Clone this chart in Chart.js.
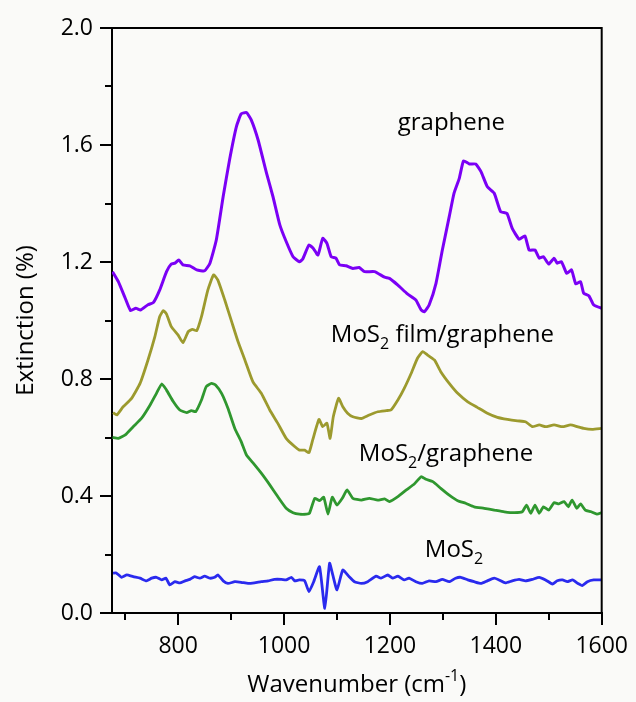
<!DOCTYPE html>
<html>
<head>
<meta charset="utf-8">
<script src="https://cdn.jsdelivr.net/npm/chart.js@4.4.1/dist/chart.umd.min.js"></script>
<style>
html,body{margin:0;padding:0;background:#fafaf8;}
#wrap{width:636px;height:702px;}
</style>
</head>
<body>
<div id="wrap"><canvas id="c" width="636" height="702"></canvas></div>
<script>
// ---- Data ----
const grapheneX = [676,687,700,710,720,729,743,753,765,778,787,794,801,809,822,835,850,860,872,885,897,910,919,929,938,951,967,979,992,1004,1017,1029,1035,1047,1055,1064,1073,1081,1089,1098,1105,1117,1130,1142,1152,1171,1190,1199,1215,1233,1249,1259,1265,1274,1287,1299,1312,1321,1331,1339,1350,1362,1372,1384,1397,1409,1421,1431,1444,1455,1463,1474,1482,1490,1500,1510,1516,1524,1534,1543,1551,1560,1566,1576,1585,1600];
const grapheneY = [1.167,1.133,1.076,1.034,1.042,1.036,1.054,1.061,1.104,1.167,1.193,1.196,1.207,1.190,1.187,1.173,1.170,1.196,1.275,1.424,1.549,1.663,1.706,1.711,1.686,1.617,1.503,1.424,1.327,1.270,1.218,1.201,1.209,1.258,1.247,1.224,1.281,1.264,1.218,1.213,1.190,1.187,1.178,1.181,1.167,1.167,1.148,1.144,1.121,1.091,1.070,1.036,1.030,1.053,1.127,1.241,1.355,1.435,1.486,1.546,1.535,1.535,1.509,1.457,1.435,1.372,1.366,1.315,1.278,1.289,1.241,1.241,1.213,1.218,1.193,1.213,1.196,1.201,1.161,1.173,1.125,1.133,1.093,1.084,1.053,1.042];

const filmX = [677,684,696,712,728,743,756,765,772,778,787,800,809,819,827,835,844,856,867,875,888,901,913,926,941,957,973,988,1004,1020,1029,1039,1047,1054,1066,1073,1081,1087,1093,1103,1111,1120,1130,1146,1161,1177,1193,1202,1215,1227,1240,1252,1262,1271,1284,1296,1312,1328,1347,1365,1384,1403,1422,1441,1456,1469,1482,1494,1510,1526,1541,1554,1566,1582,1600];
const filmY = [0.685,0.677,0.705,0.734,0.785,0.865,0.945,1.013,1.034,1.022,0.979,0.950,0.924,0.962,0.970,0.965,1.013,1.104,1.156,1.138,1.070,0.996,0.928,0.865,0.791,0.751,0.694,0.649,0.597,0.569,0.557,0.557,0.548,0.591,0.662,0.637,0.649,0.597,0.671,0.734,0.705,0.683,0.671,0.665,0.677,0.688,0.692,0.694,0.728,0.768,0.819,0.871,0.894,0.882,0.865,0.825,0.785,0.751,0.722,0.703,0.683,0.669,0.662,0.657,0.654,0.637,0.643,0.637,0.643,0.637,0.643,0.637,0.631,0.628,0.631];

const mgX = [676,687,700,715,731,747,759,769,778,791,803,816,825,833,844,853,863,871,882,894,907,919,929,941,957,973,988,1004,1017,1029,1042,1048,1058,1067,1075,1083,1091,1100,1110,1119,1130,1146,1161,1177,1190,1199,1215,1231,1246,1259,1268,1281,1296,1312,1328,1343,1359,1378,1397,1416,1435,1450,1458,1466,1474,1482,1490,1500,1510,1519,1529,1537,1544,1553,1560,1569,1580,1591,1600];
const mgY = [0.600,0.597,0.609,0.637,0.666,0.711,0.751,0.783,0.762,0.722,0.694,0.685,0.692,0.688,0.728,0.774,0.785,0.779,0.751,0.700,0.631,0.586,0.540,0.514,0.478,0.438,0.398,0.358,0.343,0.338,0.338,0.341,0.392,0.384,0.396,0.338,0.396,0.369,0.392,0.421,0.392,0.386,0.392,0.386,0.390,0.381,0.398,0.421,0.441,0.466,0.457,0.449,0.426,0.403,0.384,0.375,0.363,0.358,0.352,0.346,0.343,0.346,0.369,0.341,0.369,0.341,0.363,0.352,0.377,0.373,0.381,0.363,0.386,0.358,0.373,0.352,0.346,0.338,0.343];

const mosX = [677,683,693,703,715,728,740,750,759,769,777,784,794,803,813,822,831,841,850,860,869,875,885,894,907,919,932,944,957,970,982,995,1004,1014,1020,1029,1039,1047,1056,1067,1077,1086,1092,1100,1111,1123,1133,1146,1158,1174,1183,1196,1205,1215,1227,1236,1249,1261,1274,1287,1299,1312,1324,1334,1347,1359,1372,1384,1397,1406,1418,1431,1444,1456,1469,1482,1494,1507,1516,1526,1535,1545,1555,1563,1573,1585,1600];
const mosY = [0.136,0.137,0.122,0.130,0.124,0.119,0.110,0.119,0.122,0.113,0.119,0.096,0.107,0.103,0.110,0.115,0.124,0.119,0.126,0.119,0.122,0.130,0.110,0.101,0.107,0.105,0.101,0.103,0.107,0.110,0.115,0.115,0.113,0.122,0.110,0.113,0.110,0.073,0.107,0.158,0.016,0.170,0.130,0.079,0.147,0.124,0.107,0.101,0.107,0.126,0.119,0.130,0.119,0.126,0.113,0.119,0.107,0.101,0.110,0.107,0.115,0.107,0.119,0.122,0.113,0.107,0.101,0.110,0.119,0.113,0.103,0.110,0.115,0.110,0.115,0.122,0.113,0.099,0.110,0.113,0.107,0.113,0.101,0.094,0.107,0.113,0.113];

const xTicks = [800,1000,1200,1400,1600];
const xMinorTicks = [700,900,1100,1300,1500];
const yTicks = [0.0,0.4,0.8,1.2,1.6,2.0];
const yMinorTicks = [0.2,0.6,1.0,1.4,1.8];

// curve labels: [main text, subscript, rest], anchored in data coords (centre x, baseline y)
const labelParts = [["graphene","",""],["MoS","2"," film/graphene"],["MoS","2","/graphene"],["MoS","2",""]];
const labelX = [1316,1299,1306,1321];
const labelY = [1.650,0.926,0.520,0.191];

const FONT = "'Open Sans', 'Noto Sans', sans-serif";

function pts(xs, ys){ return xs.map((x,i)=>({x:x, y:ys[i]})); }

function drawRich(ctx, parts, cx, baseY, size, subOffset){
  const big = size + "px " + FONT;
  const small = Math.round(size*0.68) + "px " + FONT;
  ctx.font = big; const w0 = ctx.measureText(parts[0]).width;
  ctx.font = small; const w1 = parts[1] ? ctx.measureText(parts[1]).width : 0;
  ctx.font = big; const w2 = parts[2] ? ctx.measureText(parts[2]).width : 0;
  let x = cx - (w0+w1+w2)/2;
  ctx.textAlign = "left"; ctx.textBaseline = "alphabetic"; ctx.fillStyle = "#000";
  ctx.font = big; ctx.fillText(parts[0], x, baseY); x += w0;
  if (parts[1]) { ctx.font = small; ctx.fillText(parts[1], x, baseY + subOffset); x += w1; }
  if (parts[2]) { ctx.font = big; ctx.fillText(parts[2], x, baseY); }
}

const decor = {
  id: "decor",
  beforeDraw(chart){
    const ctx = chart.ctx;
    ctx.save(); ctx.fillStyle = "#fafaf8"; ctx.fillRect(0,0,chart.width,chart.height); ctx.restore();
  },
  afterDraw(chart){
    const ctx = chart.ctx, a = chart.chartArea;
    const xs = chart.scales.x, ys = chart.scales.y;
    ctx.save();
    ctx.strokeStyle = "#000"; ctx.lineWidth = 2;
    // top and right frame
    ctx.beginPath();
    ctx.moveTo(a.left-1, a.top); ctx.lineTo(a.right, a.top); ctx.lineTo(a.right, a.bottom);
    ctx.stroke();
    // minor ticks
    ctx.beginPath();
    xMinorTicks.forEach(v=>{ const p = Math.round(xs.getPixelForValue(v)); ctx.moveTo(p, a.bottom); ctx.lineTo(p, a.bottom+7); });
    yMinorTicks.forEach(v=>{ const p = Math.round(ys.getPixelForValue(v)); ctx.moveTo(a.left, p); ctx.lineTo(a.left-7, p); });
    ctx.stroke();
    // curve labels
    labelParts.forEach((parts,i)=>{
      drawRich(ctx, parts, xs.getPixelForValue(labelX[i]), ys.getPixelForValue(labelY[i]), 24, 7);
    });
    // x-axis title with superscript
    ctx.fillStyle = "#000"; ctx.textBaseline = "alphabetic";
    const big = "24px " + FONT, small = "16px " + FONT;
    ctx.font = big; const t1 = "Wavenumber (cm", t3 = ")";
    const w1 = ctx.measureText(t1).width, w3 = ctx.measureText(t3).width;
    ctx.font = small; const w2 = ctx.measureText("-1").width;
    let x = (a.left + a.right)/2 - (w1+w2+w3)/2; const by = 692;
    ctx.textAlign = "left";
    ctx.font = big; ctx.fillText(t1, x, by); x += w1;
    ctx.font = small; ctx.fillText("-1", x, by - 11); x += w2;
    ctx.font = big; ctx.fillText(t3, x, by);
    // y-axis title
    ctx.translate(26, (a.top + a.bottom)/2);
    ctx.rotate(-Math.PI/2);
    ctx.textAlign = "center"; ctx.textBaseline = "middle";
    ctx.font = big; ctx.fillText("Extinction (%)", 0, 0);
    ctx.restore();
  }
};

const lineDs = (label, data, color, w) => ({
  label, data, borderColor: color, backgroundColor: color, borderWidth: w,
  pointRadius: 0, tension: 0.15, fill: false
});

new Chart(document.getElementById("c"), {
  type: "line",
  data: {
    datasets: [
      lineDs("graphene", pts(grapheneX, grapheneY), "#7b00f5", 3),
      lineDs("MoS2 film/graphene", pts(filmX, filmY), "#9c9a2e", 2.8),
      lineDs("MoS2/graphene", pts(mgX, mgY), "#2f972f", 2.8),
      lineDs("MoS2", pts(mosX, mosY), "#2a2aee", 2.8)
    ]
  },
  options: {
    responsive: false, animation: false, devicePixelRatio: 1,
    layout: { padding: { top: 28, right: 33, left: 0, bottom: 0 } },
    plugins: { legend: { display: false }, tooltip: { enabled: false } },
    scales: {
      x: {
        type: "linear", min: 675, max: 1600,
        afterBuildTicks: s => { s.ticks = xTicks.map(v => ({ value: v })); },
        afterFit: s => { s.height = 89; },
        ticks: { color: "#000", font: { family: FONT, size: 23 }, padding: 8, maxRotation: 0, callback: v => String(v) },
        grid: { drawOnChartArea: false, drawTicks: true, tickLength: 12, color: "#000", lineWidth: 2 },
        border: { display: true, color: "#000", width: 2 }
      },
      y: {
        type: "linear", min: 0, max: 2,
        afterBuildTicks: s => { s.ticks = yTicks.map(v => ({ value: v })); },
        afterFit: s => { s.width = 112; },
        ticks: { color: "#000", font: { family: FONT, size: 23 }, padding: 7, callback: v => Number(v).toFixed(1) },
        grid: { drawOnChartArea: false, drawTicks: true, tickLength: 12, color: "#000", lineWidth: 2 },
        border: { display: true, color: "#000", width: 2 }
      }
    }
  },
  plugins: [decor]
});
</script>
</body>
</html>
